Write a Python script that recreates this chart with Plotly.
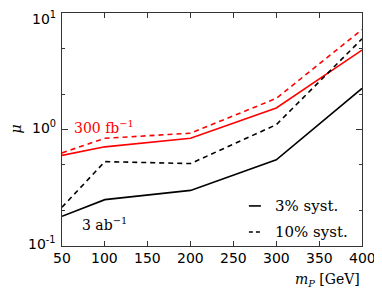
import plotly.graph_objects as go

mass = [50, 100, 200, 300, 400]
red_3 = [0.60, 0.71, 0.84, 1.53, 4.8]
red_10 = [0.63, 0.84, 0.93, 1.85, 7.2]
black_3 = [0.18, 0.25, 0.30, 0.55, 2.25]
black_10 = [0.215, 0.53, 0.51, 1.1, 6.0]

x_ticks = [50, 100, 150, 200, 250, 300, 350, 400]
y_ticks = [0.1, 1, 10]
y_tick_exp = [-1, 0, 1]
y_tick_text = ["10<sup>-1</sup>", "10<sup>0</sup>", "10<sup>1</sup>"]

serif = "DejaVu Serif"
sans = "DejaVu Sans"

fig = go.Figure()
fig.add_trace(go.Scatter(x=mass, y=red_3, mode="lines", line=dict(color="red", width=1.6),
                         showlegend=False))
fig.add_trace(go.Scatter(x=mass, y=red_10, mode="lines", line=dict(color="red", width=1.6, dash="5px,4px"),
                         showlegend=False))
fig.add_trace(go.Scatter(x=mass, y=black_3, mode="lines", line=dict(color="black", width=1.6),
                         showlegend=False))
fig.add_trace(go.Scatter(x=mass, y=black_10, mode="lines", line=dict(color="black", width=1.6, dash="5px,4px"),
                         showlegend=False))

# Luminosity labels
fig.add_annotation(x=99, y=0.02, xref="x", yref="y", text="300 fb<sup>−1</sup>",
                   showarrow=False, font=dict(family=serif, size=14, color="red"))
fig.add_annotation(x=100, y=-0.81, xref="x", yref="y", text="3 ab<sup>−1</sup>",
                   showarrow=False, font=dict(family=serif, size=14, color="black"))

# Manual legend (short line samples like the reference)
legend_items = [("3% syst.", "solid", 0.172), ("10% syst.", "4px,3px", 0.06)]
for label, dash, yp in legend_items:
    fig.add_shape(type="line", xref="paper", yref="paper", x0=0.623, x1=0.663, y0=yp, y1=yp,
                  line=dict(color="black", width=1.6, dash=dash))
    fig.add_annotation(x=0.703, y=yp, xref="paper", yref="paper", text=label, showarrow=False,
                       xanchor="left", yanchor="middle", align="left",
                       font=dict(family=serif, size=15, color="black"))

# x tick labels placed close to the axis
for v in x_ticks:
    fig.add_annotation(x=v, y=0, xref="x", yref="paper", text=str(v), showarrow=False,
                       yanchor="top", yshift=-2, font=dict(family=sans, size=14, color="black"))

# y tick labels (log axis: annotation y is given in log10 units)
for e, t in zip(y_tick_exp, y_tick_text):
    if e == 1:
        anchor, shift = "top", 6
    else:
        anchor, shift = "middle", 3
    fig.add_annotation(x=0, y=e, xref="paper", yref="y", text=t,
                       showarrow=False, xanchor="right", yanchor=anchor, xshift=-4, yshift=shift,
                       font=dict(family=sans, size=14, color="black"))

# axis titles
fig.add_annotation(x=1, y=0, xref="paper", yref="paper", text="<i>m<sub>P</sub></i> [GeV]",
                   showarrow=False, xanchor="right", yanchor="top", yshift=-23,
                   font=dict(family=serif, size=14, color="black"))
fig.add_annotation(x=0, y=0.5, xref="paper", yref="paper", text="<i>μ</i>",
                   showarrow=False, xanchor="center", yanchor="middle", xshift=-47, textangle=-90,
                   font=dict(family=serif, size=14, color="black"))

# the page body adds an 8px margin, so the figure is 8px smaller and margins shifted
fig.update_layout(
    width=374, height=282,
    margin=dict(l=54, r=20, t=5, b=44, autoexpand=False),
    plot_bgcolor="white", paper_bgcolor="white",
    font=dict(family=sans, size=14, color="black"),
    showlegend=False,
)
fig.update_xaxes(range=[50, 400], tickvals=x_ticks, showticklabels=False, automargin=False,
                 ticks="inside", ticklen=5, tickcolor="#333", mirror="ticks", showline=True,
                 linecolor="#333", linewidth=1, showgrid=False, zeroline=False)
fig.update_yaxes(type="log", range=[-1, 1], tickvals=y_ticks, showticklabels=False, automargin=False,
                 ticks="inside", ticklen=6, tickcolor="#333", mirror="ticks", showline=True,
                 linecolor="#333", linewidth=1, showgrid=False, zeroline=False,
                 minor=dict(ticks="inside", ticklen=3, dtick="D2", tickcolor="#333"))
fig.write_html("out.html")
